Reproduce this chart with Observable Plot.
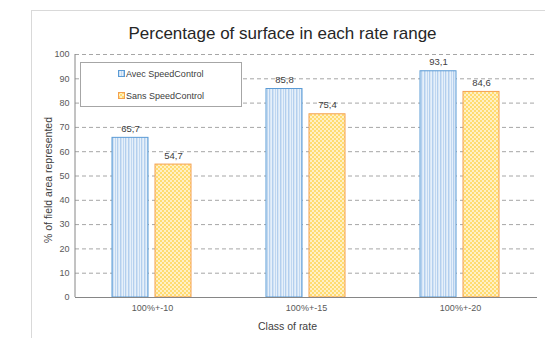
<!DOCTYPE html>
<html>
<head>
<meta charset="utf-8">
<script src="https://cdn.jsdelivr.net/npm/d3@7"></script>
<script src="https://cdn.jsdelivr.net/npm/@observablehq/plot@0.6"></script>
<style>
  html, body { margin: 0; padding: 0; background: #fff; }
  #wrap { position: relative; width: 545px; height: 338px; overflow: hidden; font-family: "Liberation Sans", Arial, sans-serif; }
  #outer { position: absolute; left: 31px; top: 10px; width: 600px; height: 400px; border-left: 1px solid #d9d9d9; border-top: 1px solid #d9d9d9; }
  #legend { position: absolute; left: 80px; top: 62px; width: 160px; height: 43px; background: #fff; border: 1px solid #a6a6a6; font-size: 9px; color: #404040; }
  .item { position: absolute; left: 37px; display: flex; align-items: center; white-space: nowrap; }
</style>
</head>
<body>
<div id="wrap">
  <div id="outer"></div>
  <div id="chart"></div>
  <div id="legend"></div>
</div>
<script>
const categories = ["100%+-10", "100%+-15", "100%+-20"];
const seriesNames = ["Avec SpeedControl", "Sans SpeedControl"];
const avec = [65.7, 85.8, 93.1];
const sans = [54.7, 75.4, 84.6];
const yTicks = [0, 10, 20, 30, 40, 50, 60, 70, 80, 90, 100];
const titleText = "Percentage of surface in each rate range";
const xLabel = "Class of rate";
const yLabel = "% of field area represented";

const rowsAvec = categories.map((c, i) => ({category: c, value: avec[i], series: seriesNames[0]}));
const rowsSans = categories.map((c, i) => ({category: c, value: sans[i], series: seriesNames[1]}));
const fmt = v => String(v).replace(".", ",");

const chart = Plot.plot({
  width: 545,
  height: 338,
  marginLeft: 75,
  marginRight: 8,
  marginTop: 54,
  marginBottom: 41,
  style: {fontFamily: "'Liberation Sans', Arial, sans-serif", fontSize: "9px", color: "#595959", background: "transparent"},
  x: {domain: categories, padding: 0, label: null, tickSize: 0, tickPadding: 7},
  y: {domain: [0, 100], ticks: yTicks, tickSize: 0, tickPadding: 6, label: null},
  marks: [
    Plot.ruleY(yTicks.filter(d => d > 0), {stroke: "#a6a6a6", strokeDasharray: "4,3"}),
    Plot.barY(rowsAvec, {x: "category", y: "value", fill: "url(#pBlue)", stroke: "#5b9bd5", strokeWidth: 1, insetLeft: 37, insetRight: 81}),
    Plot.barY(rowsSans, {x: "category", y: "value", fill: "url(#pOrange)", stroke: "#f4a050", strokeWidth: 1, insetLeft: 80, insetRight: 38}),
    Plot.text(rowsAvec, {x: "category", y: "value", text: d => fmt(d.value), dx: -22, dy: -9, fill: "#404040", fontSize: 9.5}),
    Plot.text(rowsSans, {x: "category", y: "value", text: d => fmt(d.value), dx: 21, dy: -9, fill: "#404040", fontSize: 9.5}),
    Plot.ruleY([0], {stroke: "#868686"}),
    Plot.text([titleText], {frameAnchor: "top", textAnchor: "middle", lineAnchor: "middle", dy: -21, dx: -24, fontSize: 17, fill: "#262626"}),
    Plot.text([xLabel], {frameAnchor: "bottom", textAnchor: "middle", lineAnchor: "middle", dy: 29, dx: -19, fontSize: 10.5, fill: "#404040"}),
    Plot.text([yLabel], {frameAnchor: "left", textAnchor: "middle", lineAnchor: "middle", rotate: -90, dx: -27, dy: 4, fontSize: 10.5, fill: "#404040"})
  ]
});

// pattern definitions
const svg = d3.select(chart);
const defs = svg.insert("defs", ":first-child");
const pb = defs.append("pattern").attr("id", "pBlue").attr("patternUnits", "userSpaceOnUse").attr("width", 8).attr("height", 4);
pb.append("rect").attr("width", 8).attr("height", 4).attr("fill", "#e6f0fa");
[[0, "#b3cfee"], [1, "#cfe1f4"], [3, "#c0d7f0"], [5, "#b3cfee"], [6, "#d8e7f6"]].forEach(([x, c]) =>
  pb.append("rect").attr("x", x).attr("width", 1).attr("height", 4).attr("fill", c));
const po = defs.append("pattern").attr("id", "pOrange").attr("patternUnits", "userSpaceOnUse").attr("width", 4).attr("height", 4);
po.append("rect").attr("width", 4).attr("height", 4).attr("fill", "#fff0c6");
po.append("rect").attr("width", 2).attr("height", 2).attr("fill", "#ffdc70");
po.append("rect").attr("x", 2).attr("y", 2).attr("width", 2).attr("height", 2).attr("fill", "#ffdc70");

// left axis line from the library scales
const xs = chart.scale("x"), ys = chart.scale("y");
svg.append("line")
  .attr("x1", xs.range[0]).attr("x2", xs.range[0])
  .attr("y1", ys.apply(0)).attr("y2", ys.apply(100))
  .attr("stroke", "#868686");

document.getElementById("chart").appendChild(chart);

// legend
const legend = d3.select("#legend");
const swFill = ["url(#pBlue)", "url(#pOrange)"];
const swStroke = ["#5b9bd5", "#f4a050"];
seriesNames.forEach((name, i) => {
  const item = legend.append("div").attr("class", "item").style("top", (i === 0 ? 5 : 27) + "px").style("height", "11px");
  const s = item.append("svg").attr("width", 7).attr("height", 7).style("margin-right", "1px");
  s.append("rect").attr("x", 0.5).attr("y", 0.5).attr("width", 6).attr("height", 6).attr("fill", swFill[i]).attr("stroke", swStroke[i]);
  item.append("span").text(name);
});
</script>
</body>
</html>
